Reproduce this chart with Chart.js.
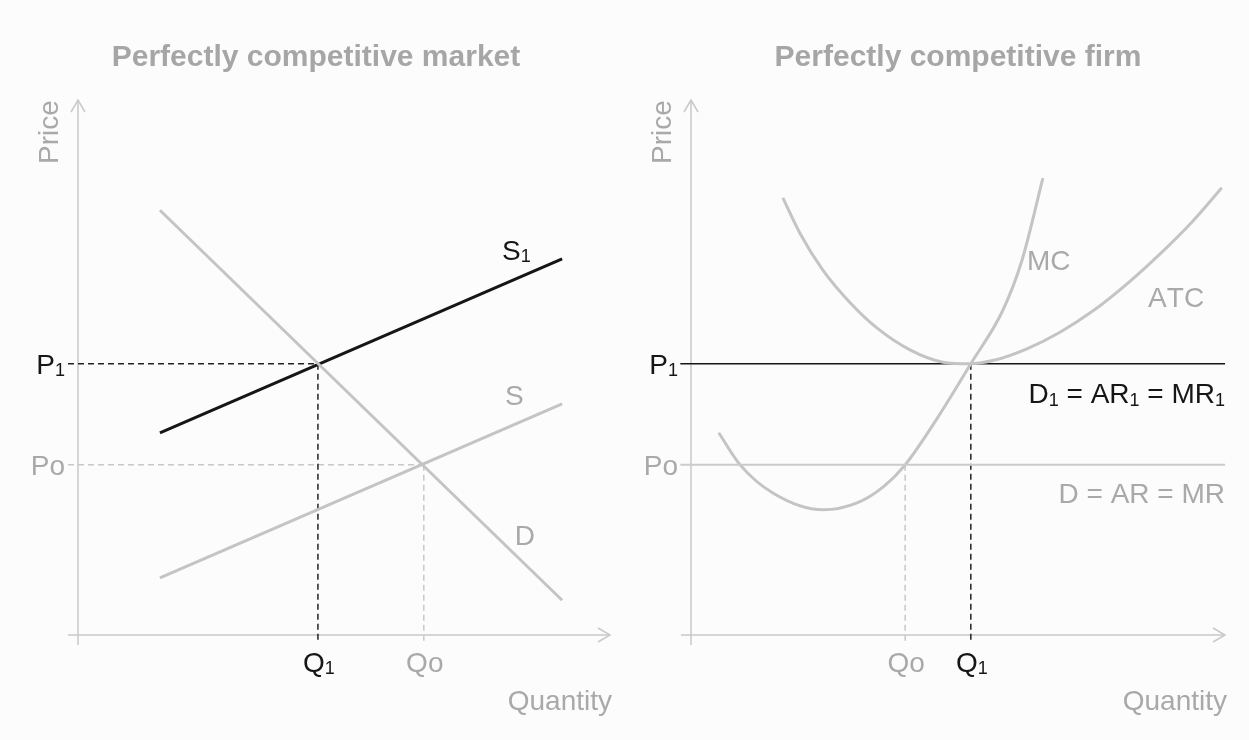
<!DOCTYPE html>
<html>
<head>
<meta charset="utf-8">
<title>Perfect competition</title>
<script src="https://cdn.jsdelivr.net/npm/chart.js@4.4.0/dist/chart.umd.min.js"></script>
<style>
  html, body { margin: 0; padding: 0; background: #fdfcfc; }
  #wrap { position: relative; width: 1249px; height: 740px; overflow: hidden; }
  .panel { position: absolute; top: 0; height: 740px; }
  #left { left: 0; width: 624px; }
  #right { left: 624px; width: 625px; }
</style>
</head>
<body>
<div id="wrap">
  <div class="panel" id="left"><canvas id="marketChart" width="624" height="740"></canvas></div>
  <div class="panel" id="right"><canvas id="firmChart" width="625" height="740"></canvas></div>
</div>
<script>
// ---- data (axis units 0..10) ----
// market panel
const demandLine  = [{x: 1.54, y: 7.94}, {x: 9.10, y: 0.65}];
const supplyLine  = [{x: 1.54, y: 1.07}, {x: 9.10, y: 4.32}];
const supply1Line = [{x: 1.54, y: 3.78}, {x: 9.10, y: 7.03}];
const marketPrices     = [5.07, 3.18];   // P1, Po
const marketQuantities = [4.51, 6.50];   // Q1, Qo

// firm panel
const mcCurve = [
  {x: 0.52, y: 3.78}, {x: 0.92, y: 3.18}, {x: 1.54, y: 2.65}, {x: 2.47, y: 2.34},
  {x: 3.11, y: 2.47}, {x: 3.60, y: 2.77}, {x: 4.01, y: 3.18}, {x: 4.61, y: 4.05},
  {x: 5.24, y: 5.07}, {x: 5.84, y: 6.07}, {x: 6.20, y: 7.01}, {x: 6.59, y: 8.54}
];
const atcCurve = [
  {x: 1.72, y: 8.17}, {x: 2.04, y: 7.51}, {x: 2.47, y: 6.82}, {x: 2.98, y: 6.21},
  {x: 3.48, y: 5.74}, {x: 4.10, y: 5.33}, {x: 4.72, y: 5.10}, {x: 5.22, y: 5.07},
  {x: 5.69, y: 5.14}, {x: 6.29, y: 5.35}, {x: 6.91, y: 5.66}, {x: 7.53, y: 6.06},
  {x: 8.16, y: 6.56}, {x: 8.78, y: 7.12}, {x: 9.40, y: 7.74}, {x: 9.94, y: 8.36}
];
const firmPrices     = [5.07, 3.18];   // P1, Po
const firmQuantities = [5.24, 4.01];   // Q1, Qo

// tick labels ("_1" = subscript)
const priceLabels    = ['P_1', 'Po'];
const quantityLabels = ['Q_1', 'Qo'];

const FONT = '"Liberation Sans", Arial, sans-serif';
const BLACK = '#161616';
const GREY_TXT = '#a9a9a9';
const GREY_LINE = '#c4c4c4';
const AXIS = '#c9c9c9';

// draw text with "_x" subscripts; y is the vertical centre of the capitals
function richText(ctx, text, x, y, align, size, color) {
  const subSize = Math.round(size * 0.66);
  const parts = [];
  for (let i = 0; i < text.length; i++) {
    if (text[i] === '_' && i + 1 < text.length) { parts.push({t: text[i + 1], sub: true}); i++; }
    else parts.push({t: text[i], sub: false});
  }
  let width = 0;
  parts.forEach(p => {
    ctx.font = (p.sub ? subSize : size) + 'px ' + FONT;
    p.w = ctx.measureText(p.t).width;
    width += p.w;
  });
  let cx = align === 'right' ? x - width : align === 'center' ? x - width / 2 : x;
  const base = y + size * 0.36;
  ctx.save();
  ctx.fillStyle = color;
  ctx.textBaseline = 'alphabetic';
  ctx.textAlign = 'left';
  parts.forEach(p => {
    ctx.font = (p.sub ? subSize : size) + 'px ' + FONT;
    ctx.fillText(p.t, cx, p.sub ? base + size * 0.08 : base);
    cx += p.w;
  });
  ctx.restore();
}

function line(ctx, x1, y1, x2, y2, color, width, dash) {
  ctx.save();
  ctx.strokeStyle = color;
  ctx.lineWidth = width;
  ctx.setLineDash(dash || []);
  ctx.beginPath();
  ctx.moveTo(x1, y1);
  ctx.lineTo(x2, y2);
  ctx.stroke();
  ctx.restore();
}

// axes with open arrow heads, drawn under the curves
const arrowAxes = {
  id: 'arrowAxes',
  beforeDatasetsDraw(chart) {
    const ctx = chart.ctx;
    const {x, y} = chart.scales;
    const ox = x.getPixelForValue(0), oy = y.getPixelForValue(0);
    const xr = x.getPixelForValue(10), yt = y.getPixelForValue(10);
    line(ctx, ox - 10, oy, xr, oy, AXIS, 1.5);
    line(ctx, ox, oy + 10, ox, yt, AXIS, 1.5);
    ctx.save();
    ctx.strokeStyle = AXIS;
    ctx.lineWidth = 1.5;
    ctx.beginPath();
    ctx.moveTo(ox - 7, yt + 12); ctx.lineTo(ox, yt); ctx.lineTo(ox + 7, yt + 12);
    ctx.moveTo(xr - 12, oy - 7); ctx.lineTo(xr, oy); ctx.lineTo(xr - 12, oy + 7);
    ctx.stroke();
    ctx.restore();
  }
};

// titles, axis names, tick labels and guides
function annotations(opts) {
  return {
    id: 'annotations',
    beforeDatasetsDraw(chart) {
      const ctx = chart.ctx;
      const {x, y} = chart.scales;
      const ox = x.getPixelForValue(0), oy = y.getPixelForValue(0);
      (opts.guides || []).forEach(g => {
        const px = x.getPixelForValue(g.q), py = y.getPixelForValue(g.p);
        if (g.horizontal) line(ctx, ox - 10, py, px, py, g.color, 1.5, [6, 4]);
        line(ctx, px, py, px, oy + 8, g.color, 1.5, [6, 4]);
      });
    },
    afterDraw(chart) {
      const ctx = chart.ctx;
      const {x, y} = chart.scales;
      const ox = x.getPixelForValue(0), oy = y.getPixelForValue(0);
      const xr = x.getPixelForValue(10), yt = y.getPixelForValue(10);

      ctx.save();
      ctx.font = 'bold 30px ' + FONT;
      ctx.fillStyle = '#a6a6a6';
      ctx.textAlign = 'center';
      ctx.textBaseline = 'middle';
      ctx.fillText(opts.title, opts.titleX, 58);
      ctx.restore();

      ctx.save();
      ctx.translate(ox - 30, yt + 32);
      ctx.rotate(-Math.PI / 2);
      richText(ctx, 'Price', 0, 0, 'center', 28, GREY_TXT);
      ctx.restore();
      richText(ctx, 'Quantity', xr + 2, 700, 'right', 28, GREY_TXT);

      opts.prices.forEach((p, i) => {
        richText(ctx, priceLabels[i], ox - 13, y.getPixelForValue(p), 'right', 28, i === 0 ? BLACK : GREY_TXT);
      });
      opts.quantities.forEach((q, i) => {
        richText(ctx, quantityLabels[i], x.getPixelForValue(q) + 1, 662, 'center', 28, i === 0 ? BLACK : GREY_TXT);
      });
      opts.labels.forEach(l => {
        richText(ctx, l.text, x.getPixelForValue(l.x), y.getPixelForValue(l.y), l.align, 28, l.color);
      });
    }
  };
}

function baseOptions(padding) {
  return {
    responsive: false,
    animation: false,
    layout: { padding: padding },
    plugins: { legend: { display: false }, title: { display: false }, tooltip: { enabled: false } },
    elements: { point: { radius: 0 } },
    scales: {
      x: { type: 'linear', min: 0, max: 10, display: false },
      y: { type: 'linear', min: 0, max: 10, display: false }
    }
  };
}

// ---- left: market ----
new Chart(document.getElementById('marketChart'), {
  type: 'scatter',
  data: {
    datasets: [
      { label: 'D',  data: demandLine,  showLine: true, borderColor: GREY_LINE, borderWidth: 3, clip: false },
      { label: 'S',  data: supplyLine,  showLine: true, borderColor: GREY_LINE, borderWidth: 3, clip: false },
      { label: 'S1', data: supply1Line, showLine: true, borderColor: BLACK, borderWidth: 3, clip: false }
    ]
  },
  options: baseOptions({ left: 78, right: 14, top: 100, bottom: 105 }),
  plugins: [arrowAxes, annotations({
    title: 'Perfectly competitive market',
    titleX: 316,
    prices: marketPrices,
    quantities: marketQuantities,
    guides: [
      { p: marketPrices[1], q: marketQuantities[1], color: '#c8c8c8', horizontal: true },
      { p: marketPrices[0], q: marketQuantities[0], color: '#222222', horizontal: true }
    ],
    labels: [
      { text: 'S_1', x: 7.97, y: 7.20, align: 'left', color: BLACK },
      { text: 'S',   x: 8.20, y: 4.49, align: 'center', color: GREY_TXT },
      { text: 'D',   x: 8.40, y: 1.87, align: 'center', color: GREY_TXT }
    ]
  })]
});

// ---- right: firm ----
new Chart(document.getElementById('firmChart'), {
  type: 'scatter',
  data: {
    datasets: [
      { label: 'D = AR = MR', data: [{x: -0.2, y: firmPrices[1]}, {x: 10, y: firmPrices[1]}],
        showLine: true, borderColor: '#cbcbcb', borderWidth: 2, clip: false },
      { label: 'MC',  data: mcCurve,  showLine: true, borderColor: GREY_LINE, borderWidth: 3,
        cubicInterpolationMode: 'monotone', clip: false },
      { label: 'ATC', data: atcCurve, showLine: true, borderColor: GREY_LINE, borderWidth: 3,
        cubicInterpolationMode: 'monotone', clip: false },
      { label: 'D1 = AR1 = MR1', data: [{x: -0.2, y: firmPrices[0]}, {x: 10, y: firmPrices[0]}],
        showLine: true, borderColor: BLACK, borderWidth: 1.6, clip: false }
    ]
  },
  options: baseOptions({ left: 67, right: 24, top: 100, bottom: 105 }),
  plugins: [arrowAxes, annotations({
    title: 'Perfectly competitive firm',
    titleX: 334,
    prices: firmPrices,
    quantities: firmQuantities,
    guides: [
      { p: firmPrices[1], q: firmQuantities[1], color: '#c8c8c8', horizontal: false },
      { p: firmPrices[0], q: firmQuantities[0], color: '#222222', horizontal: false }
    ],
    labels: [
      { text: 'MC',  x: 6.29, y: 7.01, align: 'left', color: GREY_TXT },
      { text: 'ATC', x: 8.56, y: 6.32, align: 'left', color: GREY_TXT },
      { text: 'D_1 = AR_1 = MR_1', x: 10, y: 4.52, align: 'right', color: BLACK },
      { text: 'D = AR = MR', x: 10, y: 2.65, align: 'right', color: GREY_TXT }
    ]
  })]
});
</script>
</body>
</html>
